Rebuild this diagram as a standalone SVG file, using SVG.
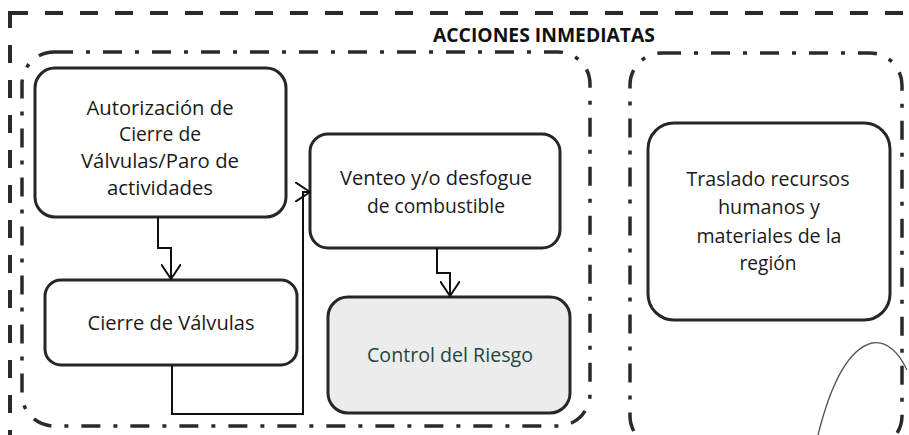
<svg xmlns="http://www.w3.org/2000/svg" width="909" height="435" viewBox="0 0 909 435">
  <style>
    .node { fill: #ffffff; stroke: #262626; stroke-width: 3; }
    .gray { fill: #ececec; }
    .txt { font-family: "Open Sans", "Liberation Sans", sans-serif; font-size: 19.5px; fill: #1a1a1a; text-anchor: middle; }
    .green { fill: #24463d; }
    .title { font-family: "Open Sans", "Liberation Sans", sans-serif; font-size: 19px; font-weight: bold; fill: #111; }
    .outer { fill: none; stroke: #2a2a2a; stroke-width: 4; stroke-dasharray: 18 17; }
    .group { fill: none; stroke: #2a2a2a; stroke-width: 3.5; stroke-dasharray: 19 13 4 13; }
    .conn { fill: none; stroke: #111; stroke-width: 2; }
  </style>
  <defs>
    <marker id="arrow" viewBox="0 0 16 20" refX="15" refY="10" markerWidth="16" markerHeight="20" markerUnits="userSpaceOnUse" orient="auto">
      <path d="M0,0 L15,10 L0,20" fill="none" stroke="#111" stroke-width="2"/>
    </marker>
  </defs>

  <rect width="909" height="435" fill="#ffffff"/>

  <g id="outer-frame">
    <rect class="outer" x="10" y="13" width="930" height="460"/>
    <text class="title" x="433" y="42" textLength="222" lengthAdjust="spacingAndGlyphs">ACCIONES INMEDIATAS</text>
  </g>

  <g id="group-left">
    <rect class="group" x="22" y="52" width="568" height="374" rx="32"/>
  </g>
  <g id="group-right">
    <rect class="group" x="630" y="53" width="272" height="395" rx="32"/>
  </g>

  <g id="node-autorizacion">
    <rect class="node" x="35" y="68" width="251" height="149" rx="20"/>
    <text class="txt" x="160" y="115" textLength="147" lengthAdjust="spacingAndGlyphs">Autorización de</text>
    <text class="txt" x="160" y="141" textLength="82" lengthAdjust="spacingAndGlyphs">Cierre de</text>
    <text class="txt" x="160" y="168" textLength="158" lengthAdjust="spacingAndGlyphs">Válvulas/Paro de</text>
    <text class="txt" x="160" y="195" textLength="106" lengthAdjust="spacingAndGlyphs">actividades</text>
  </g>

  <g id="node-cierre">
    <rect class="node" x="45" y="280" width="252" height="85" rx="16"/>
    <text class="txt" x="171" y="330" textLength="167" lengthAdjust="spacingAndGlyphs">Cierre de Válvulas</text>
  </g>

  <g id="node-venteo">
    <rect class="node" x="310" y="134" width="250" height="114" rx="18"/>
    <text class="txt" x="436" y="185" textLength="192" lengthAdjust="spacingAndGlyphs">Venteo y/o desfogue</text>
    <text class="txt" x="436" y="213" textLength="138" lengthAdjust="spacingAndGlyphs">de combustible</text>
  </g>

  <g id="node-control">
    <rect class="node gray" x="328" y="297" width="242" height="116" rx="20"/>
    <text class="txt green" x="450" y="362" textLength="166" lengthAdjust="spacingAndGlyphs">Control del Riesgo</text>
  </g>

  <g id="node-traslado">
    <rect class="node" x="648" y="123" width="242" height="197" rx="26"/>
    <text class="txt" x="768" y="186" textLength="163" lengthAdjust="spacingAndGlyphs">Traslado recursos</text>
    <text class="txt" x="769" y="214" textLength="102" lengthAdjust="spacingAndGlyphs">humanos y</text>
    <text class="txt" x="769" y="243" textLength="145" lengthAdjust="spacingAndGlyphs">materiales de la</text>
    <text class="txt" x="768" y="270" textLength="57" lengthAdjust="spacingAndGlyphs">región</text>
  </g>

  <g id="connectors">
    <path class="conn" d="M158,217 V248 H171 V279" marker-end="url(#arrow)"/>
    <path class="conn" d="M172,365 V414 H303 V192 H310" marker-end="url(#arrow)"/>
    <path class="conn" d="M437,248 V273 H450 V296" marker-end="url(#arrow)"/>
  </g>

  <g id="handwritten-mark">
    <path d="M818,435 C828,395 845,350 872,343 C888,340 900,355 907,370" fill="none" stroke="#555" stroke-width="1.3"/>
  </g>
</svg>
